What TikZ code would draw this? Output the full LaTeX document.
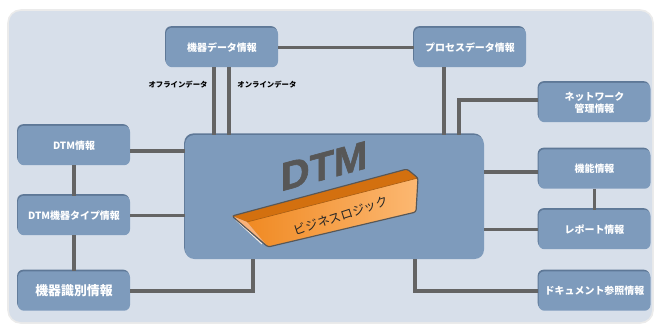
\documentclass[tikz,border=0pt]{standalone}
\usepackage{fontspec}
\setmainfont{Noto Sans CJK JP}
\newfontfamily\logofont{Liberation Sans}[BoldFeatures={FakeBold=1.6}]
\usetikzlibrary{positioning}
\definecolor{panelgray}{HTML}{D7DFEA}
\definecolor{boxblue}{HTML}{7E9BBC}
\definecolor{boxedge}{HTML}{5E7897}
\definecolor{wiregray}{HTML}{646464}
\definecolor{logogray}{HTML}{575757}
\definecolor{slabtop}{HTML}{D3700F}
\definecolor{slableft}{HTML}{F08A23}
\definecolor{slabright}{HTML}{FCB872}
\definecolor{slabend}{HTML}{F9B27A}

\tikzset{
  infobox/.style={fill=boxblue, rounded corners=5pt, minimum width=3.36cm, minimum height=1.18cm,
    text=white, font=\fontsize{8.5}{10.5}\selectfont\bfseries, align=center, inner sep=1pt,
    preaction={fill=boxedge, transform canvas={xshift=-0.7pt, yshift=1.4pt}}},
  wire/.style={wiregray, line width=3.2pt},
  tag/.style={font=\fontsize{6.3}{7}\selectfont\bfseries, text=black, inner sep=1pt},
}

\begin{document}
\begin{tikzpicture}[x=0.03cm, y=-0.03cm]
  \useasboundingbox (0,0) rectangle (655,323);
  % panel behind everything
  \draw[black!8, line width=3pt, rounded corners=10pt] (9,11) rectangle (652,322);
  \fill[panelgray, rounded corners=10pt] (9,11) rectangle (652,322);

  \node[infobox] (kdata) at (222,47.5) {機器データ情報};
  \node[infobox] (pdata) at (470,47.5) {プロセスデータ情報};
  \node[infobox] (net) at (594.5,102.5) {ネットワーク\\管理情報};
  \node[infobox] (dtminfo) at (74,145.5) {DTM情報};
  \node[infobox] (dtmtype) at (74,215.5) {DTM機器タイプ情報};
  \node[infobox, font=\fontsize{11}{13}\selectfont\bfseries] (ident) at (74,291) {機器識別情報};
  \node[infobox] (func) at (594.5,169) {機能情報};
  \node[infobox] (report) at (594.5,229.5) {レポート情報};
  \node[infobox] (doc) at (594.5,291) {ドキュメント参照情報};
  \node[infobox, minimum width=8.97cm, minimum height=3.72cm, rounded corners=8pt] (dtm) at (334.5,197) {};

  % connections
  \draw[wire] (kdata) -- (pdata);
  \draw[wire] ([xshift=-0.24cm]kdata.south) -- ([xshift=-0.24cm]kdata.south |- dtm.north);
  \draw[wire] ([xshift=0.21cm]kdata.south) -- ([xshift=0.21cm]kdata.south |- dtm.north);
  \draw[wire] ([xshift=-0.78cm]pdata.south) -- ([xshift=-0.78cm]pdata.south |- dtm.north);
  \draw[wire] ([yshift=0.075cm]net.west) -| ([xshift=3.735cm]dtm.north);
  \draw[wire] ([yshift=-0.16cm]dtminfo.east) -- ([yshift=-0.16cm]dtminfo.east -| dtm.west);
  \draw[wire] (dtmtype) -- (dtmtype -| dtm.west);
  \draw[wire] (ident) -| ([xshift=-2.445cm]dtm.south);
  \draw[wire] ([yshift=-0.09cm]func.west) -- ([yshift=-0.09cm]func.west -| dtm.east);
  \draw[wire] (report) -- (report -| dtm.east);
  \draw[wire] (doc) -| ([xshift=2.415cm]dtm.south);
  \draw[wire] (dtminfo) -- (dtmtype);
  \draw[wire] (dtmtype) -- (ident);
  \draw[wire] (func) -- (report);

  \node[tag, anchor=east] (offline) at (209,85) {オフラインデータ};
  \node[tag, anchor=west] (online) at (236,85) {オンラインデータ};

  % DTM logo and business logic slab
  \node[font=\logofont\bfseries\fontsize{34}{34}\selectfont, text=logogray, yslant=0.27] (logo) at (324,166) {DTM};
  \fill[slabtop] (232,216) -- (407,169) -- (418,178) -- (247,222) -- cycle;
  \shade[left color=slableft, right color=slabright] (247,222) -- (418,178) -- (416,212) -- (268,247) -- cycle;
  \fill[slabend] (232,216) -- (247,222) -- (268,247) -- cycle;
  \draw[white!80!slabend, line width=0.8pt] (236,220) -- (262,244);
  \draw[slabtop!80!black, line width=0.5pt] (247,222) -- (418,178);
  \draw[logogray, line width=1pt, line join=round, rounded corners=2pt] (232,216) -- (407,169) -- (418,178) -- (416,212) -- (268,247) -- cycle;
  \node[rotate=18, font=\fontsize{10.5}{12}\selectfont, text=black!85] (logic) at (341,216) {ビジネスロジック};
\end{tikzpicture}
\end{document}
